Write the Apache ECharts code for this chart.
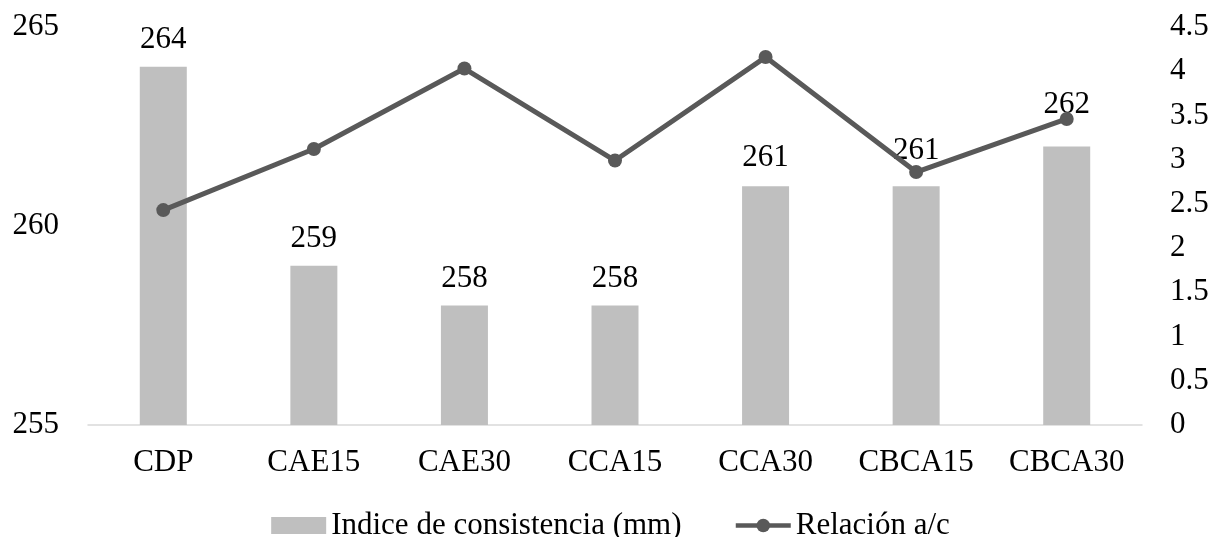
<!DOCTYPE html>
<html>
<head>
<meta charset="utf-8">
<script src="https://cdn.jsdelivr.net/npm/echarts@6/dist/echarts.min.js"></script>
<style>
  html, body { margin: 0; padding: 0; background: #ffffff; }
  #chart { width: 1221px; height: 537px; }
</style>
</head>
<body>
<div id="chart"></div>
<script>
// Mix designations
const categories = ['CDP', 'CAE15', 'CAE30', 'CCA15', 'CCA30', 'CBCA15', 'CBCA30'];
// Consistency index (mm), left axis
const consistencia = [264, 259, 258, 258, 261, 261, 262];
// Water/cement ratio, right axis
const relacionAC = [2.43, 3.12, 4.03, 2.99, 4.16, 2.86, 3.46];

const serif = '"Liberation Serif", "Times New Roman", serif';
const fs = 31;

// Lift the last two value labels a little so they sit clear of the line
const labelLift = { 4: -2, 5: -9, 6: -15 };
const barData = consistencia.map((v, i) =>
  labelLift[i] !== undefined ? { value: v, label: { offset: [0, labelLift[i]] } } : v
);

const chart = echarts.init(document.getElementById('chart'));
chart.setOption({
  animation: false,
  textStyle: { fontFamily: serif, color: '#000' },
  grid: { left: 88, right: 79, top: 27, bottom: 112, containLabel: false },
  legend: {
    top: 505,
    left: 'center',
    itemGap: 52,
    itemWidth: 55,
    itemHeight: 17,
    textStyle: { fontFamily: serif, fontSize: fs, color: '#000' },
    data: [
      { name: 'Indice de consistencia (mm)', icon: 'rect' },
      { name: 'Relación a/c', lineStyle: { width: 4.5, color: '#595959' } }
    ]
  },
  xAxis: {
    type: 'category',
    data: categories,
    axisLine: { lineStyle: { color: '#d9d9d9', width: 1.5 } },
    axisTick: { show: false },
    axisLabel: { fontFamily: serif, fontSize: fs, color: '#000', margin: 22 }
  },
  yAxis: [
    {
      type: 'value', min: 255, max: 265, interval: 5,
      splitLine: { show: false },
      axisLine: { show: false }, axisTick: { show: false },
      axisLabel: { fontFamily: serif, fontSize: fs, color: '#000', margin: 29 }
    },
    {
      type: 'value', min: 0, max: 4.5, interval: 0.5,
      splitLine: { show: false },
      axisLine: { show: false }, axisTick: { show: false },
      axisLabel: { fontFamily: serif, fontSize: fs, color: '#000', margin: 28 }
    }
  ],
  series: [
    {
      name: 'Indice de consistencia (mm)',
      type: 'bar',
      yAxisIndex: 0,
      data: barData,
      barWidth: 47,
      itemStyle: { color: '#bfbfbf' },
      label: {
        show: true, position: 'top', distance: 11,
        fontFamily: serif, fontSize: fs, color: '#000'
      }
    },
    {
      name: 'Relación a/c',
      type: 'line',
      yAxisIndex: 1,
      data: relacionAC,
      symbol: 'circle',
      symbolSize: 14,
      lineStyle: { color: '#595959', width: 5 },
      itemStyle: { color: '#595959' },
      z: 3
    }
  ]
});
</script>
</body>
</html>
